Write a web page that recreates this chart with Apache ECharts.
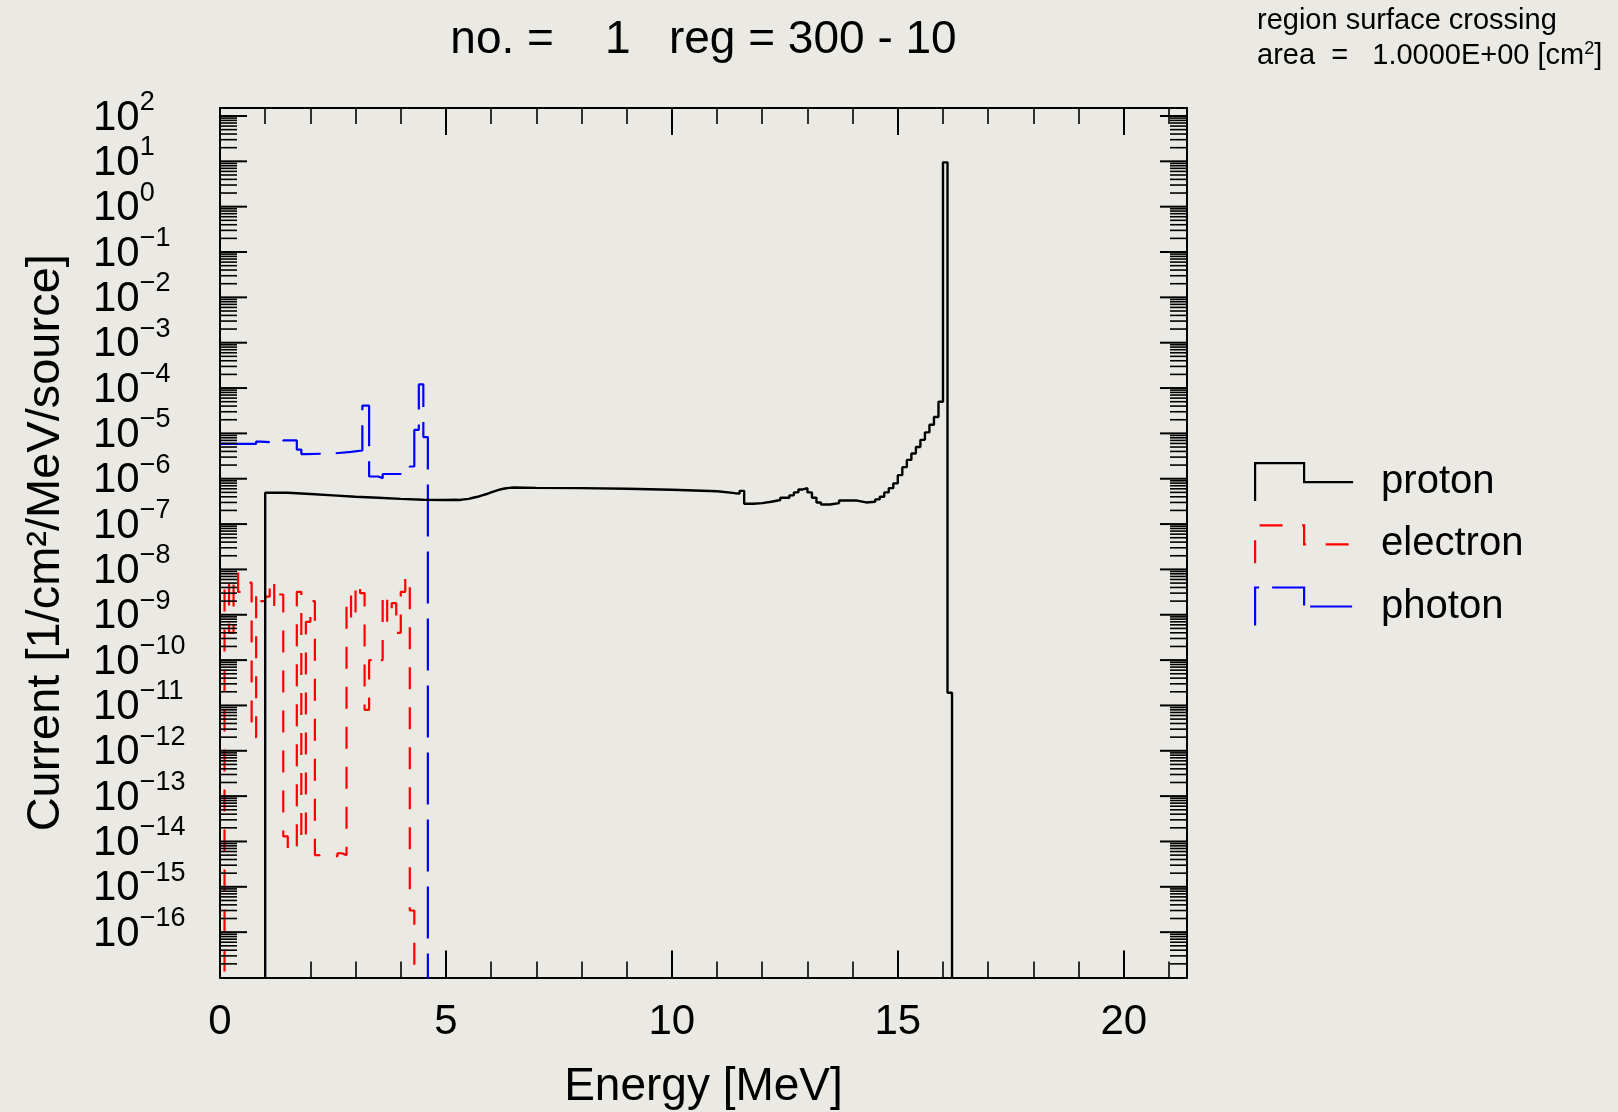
<!DOCTYPE html>
<html>
<head>
<meta charset="utf-8">
<script src="https://cdn.jsdelivr.net/npm/echarts@6/dist/echarts.min.js"></script>
<style>
html,body{margin:0;padding:0;background:#ebe9e4;}
#chart{width:1618px;height:1112px;}
</style>
</head>
<body>
<div id="chart"></div>
<script>
// ---------------- data ----------------
const xTickLabels = ['0', '5', '10', '15', '20'];
const X_MIN = 0, X_MAX = 21.4;
const Y_MIN = 1e-17, Y_MAX = 150;
const yDecades = [-17, -16, -15, -14, -13, -12, -11, -10, -9, -8, -7, -6, -5, -4, -3, -2, -1, 0, 1, 2];

// proton: bin edges (MeV) and values per bin
const protonEdges = [0, 1.0, 1.5, 2.0, 2.5, 3.0, 3.5, 4.0, 4.5, 5.0, 5.2, 5.3, 5.4, 5.5, 5.6, 5.7, 5.8, 5.9, 6.0, 6.1, 6.2, 6.3, 6.4, 6.5, 7.0, 8.0, 9.0, 10.0, 11.0, 11.4, 11.5, 11.6, 11.8, 12.0, 12.2, 12.4, 12.6, 12.7, 12.8, 12.9, 13.0, 13.1, 13.2, 13.3, 13.5, 13.7, 13.9, 14.1, 14.3, 14.5, 14.6, 14.7, 14.8, 14.9, 15.0, 15.1, 15.2, 15.3, 15.4, 15.5, 15.6, 15.7, 15.8, 15.9, 16.0, 16.1, 16.2, 16.3];
const protonValues = [0, 4.9e-7, 4.6e-7, 4.3e-7, 4.0e-7, 3.8e-7, 3.6e-7, 3.45e-7, 3.4e-7, 3.45e-7, 3.4e-7, 3.5e-7, 3.6e-7, 3.8e-7, 4.0e-7, 4.3e-7, 4.6e-7, 5.0e-7, 5.4e-7, 5.8e-7, 6.1e-7, 6.3e-7, 6.4e-7, 6.3e-7, 6.2e-7, 6.0e-7, 5.7e-7, 5.3e-7, 4.8e-7, 4.7e-7, 5.4e-7, 2.8e-7, 2.9e-7, 3.1e-7, 3.4e-7, 3.8e-7, 4.3e-7, 5.0e-7, 5.8e-7, 6.2e-7, 5.0e-7, 3.8e-7, 3.0e-7, 2.7e-7, 2.9e-7, 3.3e-7, 3.3e-7, 3.0e-7, 3.1e-7, 3.5e-7, 4.0e-7, 5.0e-7, 6.2e-7, 7.9e-7, 1.2e-6, 1.8e-6, 2.6e-6, 3.6e-6, 5.0e-6, 7.2e-6, 1.05e-5, 1.55e-5, 2.3e-5, 5.0e-5, 9.5, 1.9e-11, 0];

// electron
const electronEdges = [0, 0.1, 0.2, 0.3, 0.4, 0.5, 0.6, 0.7, 0.8, 0.9, 1.0, 1.1, 1.2, 1.3, 1.4, 1.5, 1.6, 1.7, 1.8, 1.9, 2.0, 2.1, 2.2, 2.3, 2.4, 2.5, 2.6, 2.7, 2.8, 2.9, 3.0, 3.1, 3.2, 3.3, 3.4, 3.5, 3.6, 3.7, 3.8, 3.9, 4.0, 4.1, 4.2, 4.3, 4.4];
const electronValues = [0, 5.9e-9, 4e-10, 8.9e-9, 3.2e-9, 4e-9, 5.1e-9, 2e-12, 3.2e-9, 2e-9, 2.5e-9, 6e-9, 1.5e-9, 2.8e-9, 1.3e-14, 6e-15, 6e-15, 3.2e-9, 1e-14, 7e-10, 2e-9, 5e-15, 4.5e-15, 4.2e-15, 4.5e-15, 4.8e-15, 5.5e-15, 5e-15, 2.8e-9, 7e-10, 5e-9, 3e-9, 8e-12, 1e-10, 8e-11, 1e-10, 3e-9, 7e-10, 1.8e-9, 4e-10, 3.2e-9, 7e-9, 3e-16, 0];

// photon
const photonEdges = [0, 0.8, 0.9, 1.4, 1.7, 1.8, 1.9, 2.5, 2.9, 3.15, 3.3, 3.5, 3.6, 4.0, 4.2, 4.3, 4.4, 4.5, 4.6, 4.7];
const photonValues = [5.9e-6, 6.6e-6, 6.2e-6, 7.0e-6, 4.4e-6, 3.5e-6, 3.6e-6, 3.9e-6, 4.2e-6, 4.1e-5, 1.12e-6, 1.03e-6, 1.27e-6, 1.58e-6, 1.86e-6, 1.2e-5, 1.2e-4, 8.3e-6, 0];

const seriesNames = ['proton', 'electron', 'photon'];

// ---------------- helpers ----------------
const FONT = '"Liberation Sans", Arial, Helvetica, sans-serif';
const FLOOR = 1e-30; // stands for "no counts" on the log axis (falls below the plot)

function histogram(edges, values) {
  const pts = [];
  for (let i = 0; i < values.length; i++) pts.push([edges[i], values[i] > 0 ? values[i] : FLOOR]);
  const last = values[values.length - 1];
  pts.push([edges[values.length], last > 0 ? last : FLOOR]);
  return pts;
}

// tick marks of the log axis on both frame sides: [x, value, length]
const yTickMarks = [];
yDecades.forEach(function (n) {
  const d = Math.pow(10, n);
  if (d > Y_MIN && d < Y_MAX) yTickMarks.push([X_MIN, d, 27]);
  for (let k = 2; k <= 9; k++) {
    const v = k * d;
    if (v > Y_MIN && v < Y_MAX) yTickMarks.push([X_MIN, v, 17]);
  }
});

function yLabel(v) {
  const l = Math.log10(v);
  const e = Math.round(l);
  if (Math.abs(l - e) > 1e-6 || e <= -17 || e > 2) return '';
  return '{b|10}{s|' + (e < 0 ? '\u2212' : '') + Math.abs(e) + '}';
}

const LEGEND_ICON = 'path://M0,38L0,0L49,0L49,19L98,19';

const chart = echarts.init(document.getElementById('chart'), null, {renderer: 'canvas'});

const yAxisCommon = {
  type: 'log',
  logBase: 10,
  min: Y_MIN,
  max: Y_MAX,
  interval: 1,
  splitLine: {show: false},
  axisLine: {show: true, onZero: false, lineStyle: {color: '#000', width: 2}},
  axisTick: {show: false},
  minorTick: {show: false},
  minorSplitLine: {show: false}
};

const xAxisCommon = {
  type: 'value',
  min: X_MIN,
  max: X_MAX,
  interval: 5,
  splitLine: {show: false},
  axisLine: {show: true, onZero: false, lineStyle: {color: '#000', width: 2}},
  axisTick: {show: true, inside: true, length: 27, lineStyle: {color: '#000', width: 2}},
  minorTick: {show: true, splitNumber: 5, length: 16, lineStyle: {color: '#000', width: 1.6}},
  minorSplitLine: {show: false}
};

const option = {
  animation: false,
  backgroundColor: '#ebe9e4',
  textStyle: {fontFamily: FONT},
  title: [
    {
      text: 'no. =    1   reg = 300 - 10',
      left: 703.5,
      top: 17,
      padding: 0,
      textAlign: 'center',
      textStyle: {fontSize: 46, fontWeight: 'normal', color: '#000', fontFamily: FONT}
    },
    {
      text: 'region surface crossing\narea  =   1.0000E+00 [cm{sup|2}]',
      left: 1257,
      top: 3,
      padding: 0,
      textStyle: {
        fontSize: 29, fontWeight: 'normal', color: '#000', fontFamily: FONT, lineHeight: 35,
        rich: {sup: {fontSize: 18, color: '#000', fontFamily: FONT, padding: [0, 0, 13, 0]}}
      }
    }
  ],
  legend: {
    orient: 'vertical',
    left: 1254,
    top: 462,
    padding: 0,
    itemWidth: 98,
    itemHeight: 38,
    itemGap: 22,
    selectedMode: false,
    textStyle: {fontSize: 40, color: '#000', fontFamily: FONT, padding: [0, 0, 4, 23], lineHeight: 34},
    data: [
      {name: seriesNames[0], icon: LEGEND_ICON, itemStyle: {color: 'rgba(0,0,0,0)', borderColor: '#000000', borderWidth: 2.2, borderType: 'solid'}},
      {name: seriesNames[1], icon: LEGEND_ICON, itemStyle: {color: 'rgba(0,0,0,0)', borderColor: '#ff0000', borderWidth: 2.2, borderType: [23, 19.5]}},
      {name: seriesNames[2], icon: LEGEND_ICON, itemStyle: {color: 'rgba(0,0,0,0)', borderColor: '#0000ff', borderWidth: 2.2, borderType: [42, 13, 50, 7]}}
    ]
  },
  grid: {left: 220, top: 108, width: 967, height: 869.5, containLabel: false, outerBoundsMode: 'none'},
  xAxis: [
    Object.assign({}, xAxisCommon, {
      position: 'bottom',
      name: 'Energy [MeV]',
      nameLocation: 'middle',
      nameGap: 87,
      nameMoveOverlap: false,
      nameTextStyle: {fontSize: 46, color: '#000', fontFamily: FONT},
      axisLabel: {
        show: true, fontSize: 42, color: '#000', fontFamily: FONT, margin: 24,
        formatter: function (v) { const s = String(v); return xTickLabels.indexOf(s) >= 0 ? s : ''; }
      }
    }),
    Object.assign({}, xAxisCommon, {position: 'top', axisLabel: {show: false}})
  ],
  yAxis: [
    Object.assign({}, yAxisCommon, {
      position: 'left',
      name: 'Current [1/cm\u00b2/MeV/source]',
      nameLocation: 'middle',
      nameGap: 150,
      nameMoveOverlap: false,
      nameTextStyle: {fontSize: 47, color: '#000', fontFamily: FONT},
      axisLabel: {
        show: true, align: 'left', margin: 127, color: '#000', fontFamily: FONT,
        formatter: yLabel,
        rich: {
          b: {fontSize: 42, color: '#000', fontFamily: FONT, padding: [4, 0, 0, 0]},
          s: {fontSize: 27, color: '#000', fontFamily: FONT, padding: [4, 0, 31, 0]}
        }
      }
    }),
    Object.assign({}, yAxisCommon, {position: 'right', axisLabel: {show: false}})
  ],
  series: [
    {
      name: seriesNames[0], type: 'line', step: 'end', symbol: 'none', showSymbol: false, clip: true, z: 4,
      data: histogram(protonEdges, protonValues),
      lineStyle: {color: '#000000', width: 2.4}, itemStyle: {color: '#000000'}
    },
    {
      name: seriesNames[1], type: 'line', step: 'end', symbol: 'none', showSymbol: false, clip: true, z: 3,
      data: histogram(electronEdges, electronValues),
      lineStyle: {color: '#ff0000', width: 2.2, type: [22, 18]}, itemStyle: {color: '#ff0000'}
    },
    {
      name: seriesNames[2], type: 'line', step: 'end', symbol: 'none', showSymbol: false, clip: true, z: 3,
      data: histogram(photonEdges, photonValues),
      lineStyle: {color: '#0000ff', width: 2.2, type: [52, 15]}, itemStyle: {color: '#0000ff'}
    },
    {
      name: 'y-ticks', type: 'custom', silent: true, z: 5, clip: false,
      encode: {x: 0, y: 1},
      data: yTickMarks,
      renderItem: function (params, api) {
        const v = api.value(1);
        const len = api.value(2);
        const w = len > 20 ? 2 : 1.6;
        const pl = api.coord([X_MIN, v]);
        const pr = api.coord([X_MAX, v]);
        return {
          type: 'group',
          children: [
            {type: 'line', shape: {x1: pl[0], y1: pl[1], x2: pl[0] + len, y2: pl[1]}, style: {stroke: '#000', lineWidth: w}},
            {type: 'line', shape: {x1: pr[0] - len, y1: pr[1], x2: pr[0], y2: pr[1]}, style: {stroke: '#000', lineWidth: w}}
          ]
        };
      }
    }
  ]
};

chart.setOption(option);
</script>
</body>
</html>
